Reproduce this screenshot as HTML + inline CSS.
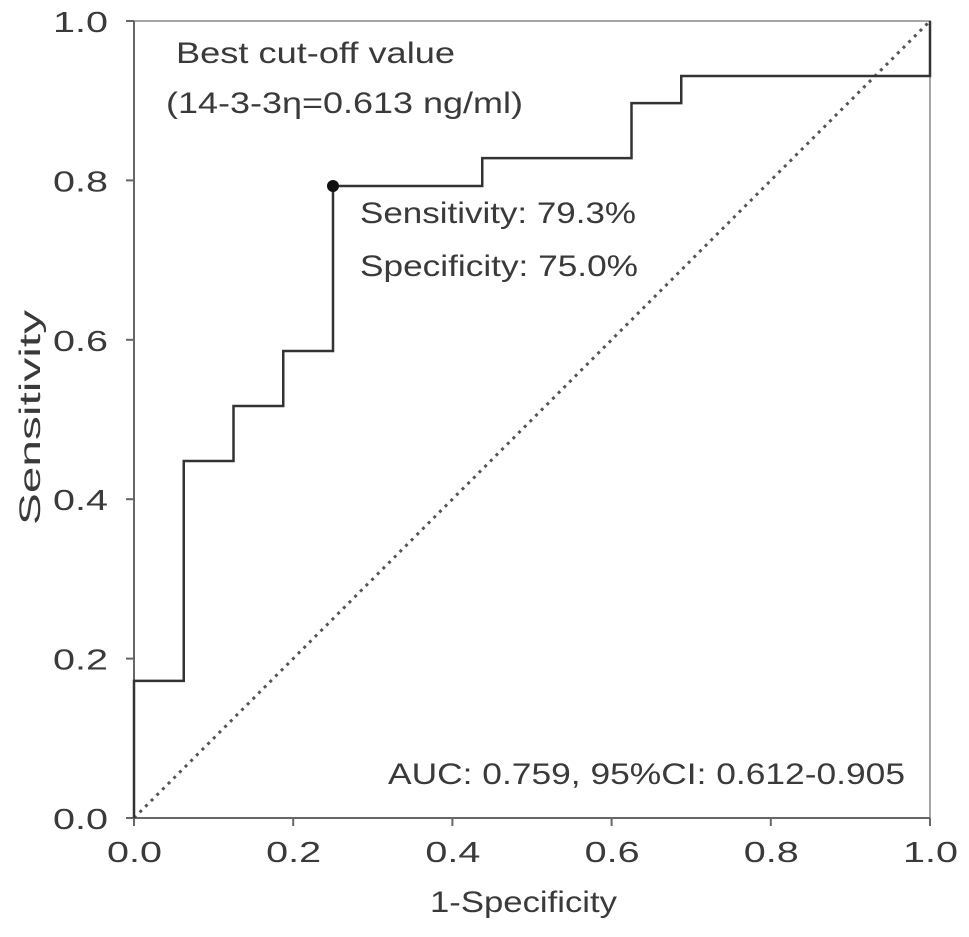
<!DOCTYPE html>
<html><head><meta charset="utf-8"><style>
body{margin:0;background:#fff;}
svg text{font-family:"Liberation Sans",sans-serif;fill:#3a3a3a;}
</style></head><body>
<svg id="chart" width="969" height="932" xmlns="http://www.w3.org/2000/svg"></svg>
<script>
const fprValues=[0,0,0.0625,0.0625,0.125,0.125,0.1875,0.1875,0.25,0.25,0.4375,0.4375,0.625,0.625,0.6875,0.6875,1,1];
const tprValues=[0,0.172,0.172,0.448,0.448,0.517,0.517,0.586,0.586,0.793,0.793,0.828,0.828,0.897,0.897,0.931,0.931,1];
const xTicks=[0,0.2,0.4,0.6,0.8,1.0];
const yTicks=[0,0.2,0.4,0.6,0.8,1.0];
const cutoff=[0.25,0.793];
const NS="http://www.w3.org/2000/svg";
const svg=document.getElementById('chart');
const X0=134,X1=930,Y0=818,Y1=21;
const sx=v=>X0+v*(X1-X0), sy=v=>Y0-v*(Y0-Y1);
function mk(t,a,txt){const e=document.createElementNS(NS,t);for(const k in a)e.setAttribute(k,a[k]);if(txt!==undefined)e.textContent=txt;svg.appendChild(e);return e;}
let e;
e=mk('rect',{x:X0,y:Y1,width:X1-X0,height:Y0-Y1,fill:'none',stroke:'#888','stroke-width':1.5});


e=mk('line',{x1:X0,y1:Y0,x2:X1,y2:Y0,stroke:'#666','stroke-width':2});


e=mk('line',{x1:X0,y1:Y0,x2:X0,y2:Y1,stroke:'#666','stroke-width':2});


xTicks.forEach(v=>{
 e=mk('line',{x1:sx(v),y1:Y0,x2:sx(v),y2:Y0+8,stroke:'#666','stroke-width':2});
 
 
 e=mk('text',{x:sx(v)-27,y:Y0+44,'font-size':29,textLength:55,lengthAdjust:'spacingAndGlyphs'},v.toFixed(1));
 
 
});
yTicks.forEach(v=>{
 e=mk('line',{x1:X0-8,y1:sy(v),x2:X0,y2:sy(v),stroke:'#666','stroke-width':2});
 
 
 e=mk('text',{x:X0-81,y:sy(v)+11,'font-size':29,textLength:55,lengthAdjust:'spacingAndGlyphs'},v.toFixed(1));
 
 
});
e=mk('line',{x1:sx(0),y1:sy(0),x2:sx(1),y2:sy(1),stroke:'#555','stroke-width':3,'stroke-dasharray':'3,5'});


e=mk('polyline',{points:fprValues.map((f,i)=>sx(f)+','+sy(tprValues[i])).join(' '),fill:'none',stroke:'#333','stroke-width':2.5});


e=mk('circle',{cx:sx(cutoff[0]),cy:sy(cutoff[1]),r:6,fill:'#111'});


const texts=[['Best cut-off value',176,63,279,'title-line1'],['(14-3-3η=0.613 ng/ml)',166,113,357,'title-line2'],['Sensitivity: 79.3%',360,223,276,'sensitivity-label'],['Specificity: 75.0%',360,276,278,'specificity-label'],['AUC: 0.759, 95%CI: 0.612-0.905',388,784,517,'auc-label']];
texts.forEach(t=>{e=mk('text',{x:t[1],y:t[2],'font-size':30,textLength:t[3],lengthAdjust:'spacingAndGlyphs'},t[0]);
 
 });
e=mk('text',{x:430,y:912,'font-size':30,textLength:187,lengthAdjust:'spacingAndGlyphs'},'1-Specificity');


e=mk('text',{x:-107,y:0,'font-size':30,textLength:215,lengthAdjust:'spacingAndGlyphs',transform:'translate(40,418) rotate(-90)'},'Sensitivity');


</script>
</body></html>
